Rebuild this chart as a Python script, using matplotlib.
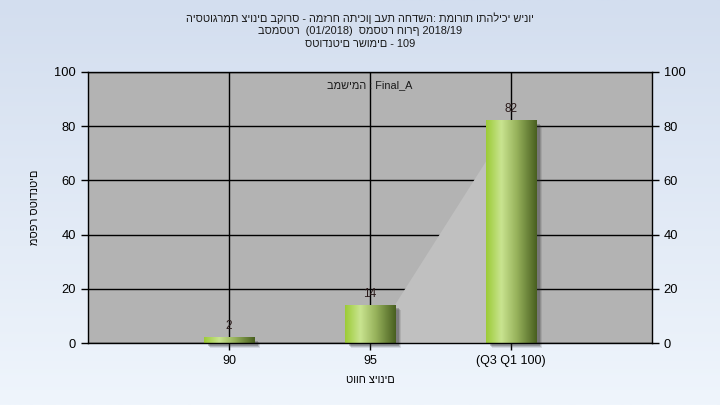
import numpy as np
import matplotlib
matplotlib.use('Agg')
import matplotlib.pyplot as plt
from matplotlib.colors import LinearSegmentedColormap
from matplotlib.patches import Rectangle
import matplotlib.transforms as mtransforms

plt.rcParams['font.family'] = ['Liberation Sans', 'DejaVu Sans']

# ---- data ----
categories = ['90', '95', '(Q3 Q1 100)']
counts = [2, 14, 82]
area_values = [0, 0, 82]
yticks = [0, 20, 40, 60, 80, 100]
title_lines = ['היסטוגרמת ציונים בקורס - המזרח התיכון בעת החדשה: תמורות ותהליכי שינוי',
               'בסמסטר  (01/2018)  סמסטר חורף 2018/19',
               'סטודנטים רשומים - 109']
x_label = 'טווח ציונים'
y_label = 'מספר סטודנטים'
note = 'במשימה : Final_A'

fig = plt.figure(figsize=(7.2, 4.05), dpi=100)

# background gradient
bg = fig.add_axes([0, 0, 1, 1], zorder=-10)
grad = np.linspace(0, 1, 256).reshape(-1, 1)
cmap_bg = LinearSegmentedColormap.from_list('bg', ['#d3deef', '#eff5fc'])
bg.imshow(grad, aspect='auto', cmap=cmap_bg, extent=[0, 1, 0, 1], origin='upper')
bg.axis('off')

ax = fig.add_axes([88/720, 1-343/405, (652-88)/720, (343-72)/405])
ax.set_facecolor('#b3b3b3')

x = np.arange(len(categories))
w = 0.36

# grid
ax.set_axisbelow(True)
ax.grid(True, color='black', lw=1)

# light area series
ax.fill_between(x, 0, area_values, color='#c0c0c0', zorder=1, lw=0)

# bars with gradient and shadow
bar_cmap = LinearSegmentedColormap.from_list('bar', [(0.0, '#9ccb36'), (0.3, '#c9e490'),
                                                     (0.6, '#98b35c'), (1.0, '#485f1f')])
hgrad = np.linspace(0, 1, 256).reshape(1, -1)
for xi, v in zip(x, counts):
    for dx, dy, a in [(6, -5, 0.12), (5, -4, 0.18), (4, -3, 0.25)]:
        tr = mtransforms.offset_copy(ax.transData, fig=fig, x=dx, y=dy, units='dots')
        ax.add_patch(Rectangle((xi - w/2, 0), w, v, transform=tr, facecolor='#303030',
                               alpha=a, lw=0, zorder=1.5, clip_on=False))
    ax.imshow(hgrad, extent=[xi - w/2, xi + w/2, 0, v], aspect='auto', cmap=bar_cmap, zorder=2)
    ax.annotate(str(v), (xi, v), xytext=(0, 4), textcoords='offset points',
                ha='center', va='bottom', fontsize=8.5, color='#2a1a1a', zorder=3)

ax.set_xlim(-1, 3)
ax.set_ylim(0, 100)
ax.set_xticks(x)
ax.set_xticklabels(categories)
ax.set_yticks(yticks)
ax.tick_params(axis='y', left=True, right=True, labelleft=True, labelright=True,
               direction='out', length=5, width=1, color='black', labelsize=9.3)
ax.tick_params(axis='x', direction='out', length=5, width=1, color='black', labelsize=9)
for s in ax.spines.values():
    s.set_color('black')
    s.set_linewidth(1)

ax.text(0.5, 1 - (85-72)/(343-72), note, transform=ax.transAxes, ha='center', va='center',
        fontsize=7.8, color='#1a1a1a')

ys = [18, 31, 44]
for line, yy in zip(title_lines, ys):
    fig.text(0.5, 1 - yy/405, line, ha='center', va='center', fontsize=7.9, color='#1a1a1a')

fig.text(35/720, 1 - 207/405, y_label, rotation=90, ha='center', va='center', fontsize=7.9)
fig.text(370/720, 1 - 380/405, x_label, ha='center', va='center', fontsize=7.9)

fig.savefig('out.png', dpi=100)
